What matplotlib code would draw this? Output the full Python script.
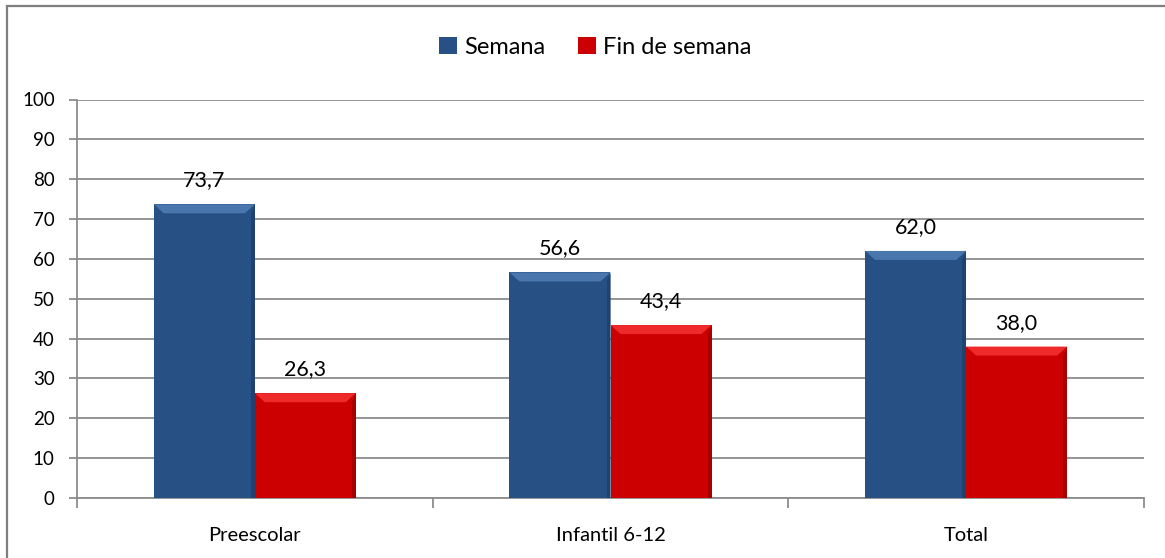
import matplotlib.pyplot as plt
from matplotlib.patches import Polygon, Rectangle

categories = ["Preescolar", "Infantil 6-12", "Total"]
semana = [73.7, 56.6, 62.0]
fin_semana = [26.3, 43.4, 38.0]
series_names = ["Semana", "Fin de semana"]
yticks = list(range(0, 101, 10))

BLUE = "#275185"
BLUE_LIGHT = "#4a76ae"
BLUE_DARK = "#1b3a63"
RED = "#cc0000"
RED_LIGHT = "#ee2a2a"
RED_DARK = "#8f0000"
GRID = "#8c8c8c"

plt.rcParams["font.family"] = ["Lato", "DejaVu Sans"]

W, H = 1165, 558
fig = plt.figure(figsize=(W / 100, H / 100), dpi=100)
ax = fig.add_axes([77 / W, 1 - 498 / H, (1144 - 77) / W, (498 - 99.5) / H])

# chart frame (only top and left visible in the reference)
fig.patches.append(Rectangle((7 / W, -0.05), 1.1, 1 - 6 / H + 0.05, transform=fig.transFigure,
                             fill=False, edgecolor="#7f7f7f", lw=1.6))

x = range(len(categories))
bw = 0.284
bars_s = ax.bar([i - bw / 2 for i in x], semana, bw, color=BLUE, zorder=3, label=series_names[0])
bars_f = ax.bar([i + bw / 2 for i in x], fin_semana, bw, color=RED, zorder=3, label=series_names[1])

ax.set_xlim(-0.5, len(categories) - 0.5)
ax.set_ylim(0, 100)

# bevel: light top edge, dark right edge, derived from bar geometry
px_x = 1.0 * len(categories) / (1144 - 77)
px_y = 100 / (498 - 99.5)
for bars, light, dark in [(bars_s, BLUE_LIGHT, BLUE_DARK), (bars_f, RED_LIGHT, RED_DARK)]:
    for b in bars:
        x0, w, h = b.get_x(), b.get_width(), b.get_height()
        dx, dy = 10 * px_x, 9 * px_y
        ax.add_patch(Polygon([(x0, h), (x0 + w, h), (x0 + w - dx, h - dy), (x0 + dx, h - dy)],
                             closed=True, color=light, zorder=4, lw=0))
        ax.add_patch(Polygon([(x0 + w, h), (x0 + w, 0), (x0 + w - 4 * px_x, 0),
                              (x0 + w - 4 * px_x, h - dy)],
                             closed=True, color=dark, alpha=0.6, zorder=4, lw=0))
        ax.annotate(f"{h:.1f}".replace(".", ","), (x0 + w / 2, h), xytext=(0, 10),
                    textcoords="offset points", ha="center", va="bottom", fontsize=15.5,
                    color="#000000")

ax.set_yticks(yticks)
ax.yaxis.grid(True, color=GRID, lw=1.3, zorder=0)
ax.set_xticks([i + 0.5 for i in range(-1, len(categories))])
ax.set_xticklabels([])
ax.set_xticks(list(x), minor=True)
ax.set_xticklabels(categories, minor=True, fontsize=14.5)
ax.tick_params(axis="x", which="major", length=7, width=1.3, color=GRID)
ax.tick_params(axis="x", which="minor", length=0, pad=21)
ax.tick_params(axis="y", length=6, width=1.3, color=GRID, labelsize=13.5, pad=10)
for side in ["top", "right"]:
    ax.spines[side].set_visible(False)
for side in ["left", "bottom"]:
    ax.spines[side].set_color(GRID)
    ax.spines[side].set_linewidth(1.3)

ax.legend(loc="center", bbox_to_anchor=(595 / W, 1 - 47 / H), bbox_transform=fig.transFigure,
          ncol=2, frameon=False, fontsize=17, handlelength=0.75, handleheight=0.75,
          handletextpad=0.3, columnspacing=1.4)

fig.savefig("out.png", dpi=100)
